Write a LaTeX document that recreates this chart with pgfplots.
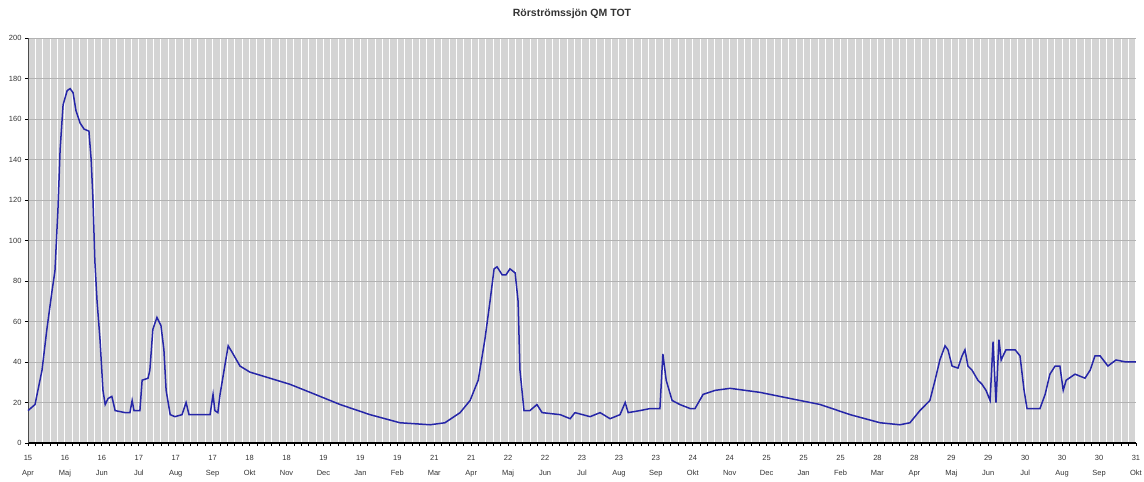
\documentclass[border=0pt]{standalone}
\usepackage{fontspec}
\setmainfont{Liberation Sans}
\usepackage{pgfplots}
\pgfplotsset{compat=1.18}
\definecolor{bg}{RGB}{212,212,212}
\definecolor{hgrid}{RGB}{178,178,178}
\definecolor{series}{RGB}{38,38,168}
\begin{document}
\begin{tikzpicture}
\path[use as bounding box] (-28pt,-39pt) rectangle (1116pt,443pt);
\begin{axis}[
  at={(0,0)}, anchor=south west,
  scale only axis, width=1108pt, height=405pt,
  xmin=0, xmax=30, ymin=0, ymax=200,
  axis background/.style={fill=bg},
  axis lines=left, axis line style={-, black!70},
  x axis line style={line width=1.6pt, black},
  ytick={0,20,...,200},
  xtick={0,...,30},
  xticklabels={{15\\Apr},{16\\Maj},{16\\Jun},{17\\Jul},{17\\Aug},{17\\Sep},{18\\Okt},{18\\Nov},{19\\Dec},{19\\Jan},{19\\Feb},{21\\Mar},{21\\Apr},{22\\Maj},{22\\Jun},{23\\Jul},{23\\Aug},{23\\Sep},{24\\Okt},{24\\Nov},{25\\Dec},{25\\Jan},{25\\Feb},{28\\Mar},{28\\Apr},{29\\Maj},{29\\Jun},{30\\Jul},{30\\Aug},{30\\Sep},{31\\Okt}},
  xticklabel style={align=center, font=\fontsize{7.5}{15}\selectfont, text=black!80, yshift=-6pt},
  yticklabel style={font=\fontsize{7.5}{8}\selectfont, text=black!80},
  /pgf/number format/assume math mode=true,
  minor x tick num=4,
  xmajorgrids, xminorgrids, ymajorgrids,
  x grid style={white, line width=1pt},
  minor x grid style={white, line width=1pt},
  y grid style={hgrid, line width=0.8pt},
  tick align=outside,
  major tick length=3pt, minor tick length=3pt,
  every tick/.style={black, line width=0.8pt},
  title={Rörströmssjön QM TOT},
  title style={at={(0.491,1)}, anchor=center, yshift=18pt, font=\fontsize{10.5}{11}\selectfont\bfseries, text=black!80},
  clip=false,
]
\addplot[series, line width=1.5pt] coordinates {
(0,16) (0.19,19) (0.38,36) (0.51,56) (0.65,75) (0.73,85) (0.81,115) (0.87,145) (0.95,167) (1.06,174) (1.14,175) (1.22,173) (1.30,164) (1.41,158) (1.52,155) (1.65,154) (1.71,140) (1.76,120) (1.81,90) (1.87,70) (1.95,51) (2.03,26) (2.09,19) (2.17,22) (2.27,23) (2.36,16) (2.63,15) (2.76,15) (2.82,21) (2.87,16) (3.03,16) (3.09,31) (3.25,32) (3.30,36) (3.38,56) (3.49,62) (3.60,58) (3.68,46) (3.74,26) (3.85,14) (3.98,13) (4.17,14) (4.28,20) (4.36,14) (4.66,14) (4.93,14) (5.01,24) (5.06,16) (5.14,15) (5.20,24) (5.31,36) (5.42,48) (5.52,45) (5.74,38) (6.01,35) (6.55,32) (7.09,29) (7.64,25) (8.45,19) (9.26,14) (10.07,10) (10.89,9) (11.29,10) (11.70,15) (11.97,21) (12.19,31) (12.37,51) (12.51,70) (12.62,86) (12.70,87) (12.84,83) (12.94,83) (13.05,86) (13.19,84) (13.27,70) (13.32,36) (13.43,16) (13.59,16) (13.78,19) (13.92,15) (14.41,14) (14.68,12) (14.81,15) (15.22,13) (15.49,15) (15.76,12) (16.03,14) (16.17,20) (16.25,15) (16.57,16) (16.84,17) (17.11,17) (17.19,44) (17.28,31) (17.44,21) (17.65,19) (17.93,17) (18.06,17) (18.28,24) (18.61,26) (19.01,27) (19.82,25) (20.63,22) (21.45,19) (22.26,14) (23.07,10) (23.61,9) (23.88,10) (24.15,16) (24.42,21) (24.56,31) (24.69,41) (24.83,48) (24.91,46) (25.02,38) (25.18,37) (25.29,43) (25.37,46) (25.45,38) (25.56,36) (25.72,31) (25.83,29) (25.94,26) (26.05,21) (26.13,50) (26.21,20) (26.29,51) (26.35,41) (26.40,43) (26.48,46) (26.73,46) (26.86,43) (26.97,26) (27.05,17) (27.40,17) (27.54,24) (27.67,34) (27.81,38) (27.94,38) (28.03,26) (28.11,31) (28.35,34) (28.62,32) (28.76,36) (28.89,43) (29.03,43) (29.24,38) (29.46,41) (29.73,40) (30.00,40)
};
\end{axis}
\end{tikzpicture}
\end{document}
